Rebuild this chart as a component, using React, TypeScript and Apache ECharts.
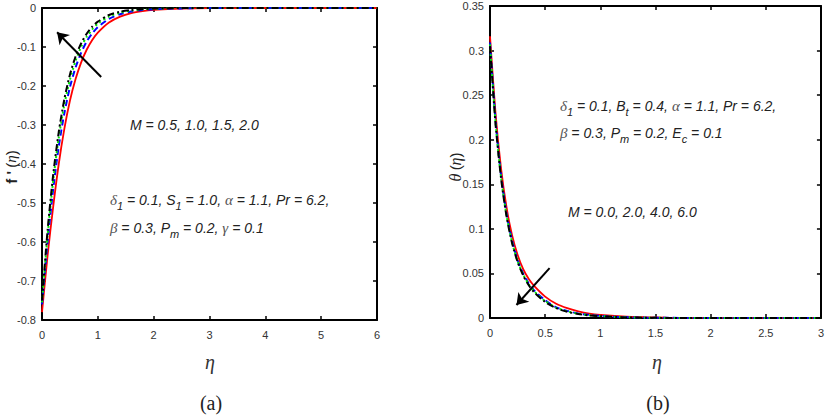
import React, { useEffect, useRef } from 'react';
import * as echarts from 'echarts';

// ---- Panel (a): f'(eta) ----
const etaA = [0, 0.1, 0.2, 0.3, 0.4, 0.5, 0.6, 0.7, 0.8, 0.9, 1.0, 1.2, 1.4, 1.6, 1.8, 2.0, 2.5, 3, 4, 5, 6];
const fRed = [-0.78, -0.635, -0.51, -0.4, -0.31, -0.238, -0.183, -0.14, -0.107, -0.082, -0.063, -0.037, -0.022, -0.013, -0.008, -0.005, -0.0015, -0.0004, 0, 0, 0];
const fBlue = [-0.76, -0.6, -0.465, -0.355, -0.27, -0.203, -0.153, -0.115, -0.086, -0.065, -0.049, -0.028, -0.016, -0.009, -0.005, -0.003, -0.001, 0, 0, 0, 0];
const fGreen = [-0.755, -0.583, -0.443, -0.333, -0.248, -0.184, -0.136, -0.1, -0.074, -0.055, -0.04, -0.022, -0.012, -0.0065, -0.0035, -0.002, 0, 0, 0, 0, 0];
const fBlack = [-0.75, -0.57, -0.428, -0.318, -0.234, -0.171, -0.125, -0.091, -0.066, -0.048, -0.035, -0.018, -0.0095, -0.005, -0.0025, -0.0012, 0, 0, 0, 0, 0];
const arrowA = [[1.06, -0.177], [0.27, -0.062]];

// ---- Panel (b): theta(eta) ----
const etaB = [0, 0.05, 0.1, 0.15, 0.2, 0.25, 0.3, 0.35, 0.4, 0.5, 0.6, 0.7, 0.8, 0.9, 1.0, 1.2, 1.4, 1.6, 2.0, 2.5, 3];
const tRed = [0.316, 0.23, 0.168, 0.124, 0.093, 0.071, 0.055, 0.044, 0.036, 0.024, 0.016, 0.011, 0.0075, 0.005, 0.0035, 0.0018, 0.0009, 0.0004, 0.0001, 0, 0];
const tBlue = [0.309, 0.222, 0.16, 0.117, 0.087, 0.065, 0.05, 0.039, 0.031, 0.02, 0.012, 0.008, 0.005, 0.0035, 0.0024, 0.001, 0.0004, 0.0002, 0, 0, 0];
const tGreen = [0.307, 0.22, 0.158, 0.115, 0.085, 0.064, 0.049, 0.038, 0.03, 0.019, 0.0115, 0.0075, 0.0048, 0.0032, 0.0022, 0.0009, 0.0004, 0.0001, 0, 0, 0];
const tBlack = [0.305, 0.218, 0.157, 0.114, 0.084, 0.063, 0.048, 0.037, 0.029, 0.018, 0.011, 0.007, 0.0045, 0.003, 0.002, 0.0008, 0.0003, 0.0001, 0, 0, 0];
const arrowB = [[0.54, 0.056], [0.24, 0.0146]];

const lineStyles = [
  { color: '#ff0000', width: 1.8, type: 'solid' as any },
  { color: '#0000ff', width: 2, type: [6, 4] as any },
  { color: '#00ee00', width: 2, type: [2, 3] as any },
  { color: '#000000', width: 2, type: [7, 3, 2, 3] as any },
];

const SANS = '"Liberation Sans", Arial, sans-serif';
const SERIF = '"Liberation Serif", "Times New Roman", serif';

function mkX(grid: number, min: number, max: number, interval: number, pos: 'bottom' | 'top') {
  return {
    type: 'value', gridIndex: grid, min, max, interval, position: pos,
    axisLine: { show: true, onZero: false, lineStyle: { color: '#000', width: 2 } },
    axisTick: { show: true, inside: true, length: 4, lineStyle: { color: '#000', width: 1.5 } },
    axisLabel: { show: pos === 'bottom', color: '#333', fontSize: 11, fontFamily: SANS, margin: 9 },
    splitLine: { show: false },
  };
}
function mkY(grid: number, min: number, max: number, interval: number, pos: 'left' | 'right', fmt?: (v: number) => string) {
  return {
    type: 'value', gridIndex: grid, min, max, interval, position: pos,
    axisLine: { show: true, onZero: false, lineStyle: { color: '#000', width: 2 } },
    axisTick: { show: true, inside: true, length: 4, lineStyle: { color: '#000', width: 1.5 } },
    axisLabel: { show: pos === 'left', color: '#333', fontSize: 11, fontFamily: SANS, margin: 6, formatter: fmt },
    splitLine: { show: false },
  };
}

function mkSeries(xs: number[], ys: number[], idx: number, xi: number, yi: number) {
  return {
    type: 'line', xAxisIndex: xi, yAxisIndex: yi,
    data: xs.map((x, i) => [x, ys[i]]),
    showSymbol: false, symbol: 'none', smooth: 0.25,
    lineStyle: lineStyles[idx], z: 3 + idx,
  };
}

function mkArrow(coords: number[][], xi: number, yi: number) {
  return {
    type: 'lines', coordinateSystem: 'cartesian2d', xAxisIndex: xi, yAxisIndex: yi,
    data: [{ coords }], symbol: ['none', 'arrow'], symbolSize: [0, 11],
    lineStyle: { color: '#000', width: 2, opacity: 1, curveness: 0 }, z: 10,
  };
}

const richBase = {
  t: { fontSize: 14, fontFamily: SANS, fontStyle: 'italic', fill: '#222' },
  g: { fontSize: 15, fontFamily: SERIF, fontStyle: 'italic', fill: '#555' },
  s: { fontSize: 11, fontFamily: SANS, fontStyle: 'italic', fill: '#222', padding: [12, 0, 0, 0] },
};

function annot(x: number, y: number, text: string) {
  return {
    type: 'text', x, y, z: 20,
    style: { text, rich: richBase, textVerticalAlign: 'middle', textAlign: 'left' },
  };
}

export default function App() {
  const ref = useRef<HTMLDivElement>(null);
  useEffect(() => {
    if (!ref.current) return;
    const chart = echarts.init(ref.current, undefined, { renderer: 'svg' });
    const fmt2 = (v: number) => String(Math.round(v * 100) / 100);
    const fmt1 = (v: number) => String(Math.round(v * 10) / 10);
    chart.setOption({
      animation: false,
      backgroundColor: '#fff',
      grid: [
        { left: 42, top: 8, width: 335, height: 312 },
        { left: 490, top: 6, width: 334, height: 312 },
      ],
      xAxis: [
        mkX(0, 0, 6, 1, 'bottom'), mkX(0, 0, 6, 1, 'top'),
        mkX(1, 0, 3, 0.5, 'bottom'), mkX(1, 0, 3, 0.5, 'top'),
      ],
      yAxis: [
        mkY(0, -0.8, 0, 0.1, 'left', fmt1), mkY(0, -0.8, 0, 0.1, 'right'),
        mkY(1, 0, 0.35, 0.05, 'left', fmt2), mkY(1, 0, 0.35, 0.05, 'right'),
      ],
      series: [
        mkSeries(etaA, fRed, 0, 0, 0),
        mkSeries(etaA, fBlue, 1, 0, 0),
        mkSeries(etaA, fGreen, 2, 0, 0),
        mkSeries(etaA, fBlack, 3, 0, 0),
        mkArrow(arrowA, 0, 0),
        mkSeries(etaB, tRed, 0, 2, 2),
        mkSeries(etaB, tBlue, 1, 2, 2),
        mkSeries(etaB, tGreen, 2, 2, 2),
        mkSeries(etaB, tBlack, 3, 2, 2),
        mkArrow(arrowB, 2, 2),
      ],
      graphic: [
        annot(130, 125, '{t|M = 0.5, 1.0, 1.5, 2.0}'),
        annot(110, 200, '{g|δ}{s|1}{t| = 0.1, S}{s|1}{t| = 1.0, }{g|α}{t| = 1.1, Pr = 6.2,}'),
        annot(110, 228, '{g|β}{t| = 0.3, P}{s|m}{t| = 0.2, }{g|γ}{t| = 0.1}'),
        annot(560, 106, '{g|δ}{s|1}{t| = 0.1, B}{s|t}{t| = 0.4, }{g|α}{t| = 1.1, Pr = 6.2,}'),
        annot(560, 133, '{g|β}{t| = 0.3, P}{s|m}{t| = 0.2, E}{s|c}{t| = 0.1}'),
        annot(568, 212, '{t|M = 0.0, 2.0, 4.0, 6.0}'),
        {
          type: 'text', x: 11, y: 167, rotation: Math.PI / 2, z: 20,
          style: {
            text: "{b|f '} {p|(}{e|η}{p|)}", textAlign: 'center', textVerticalAlign: 'middle',
            rich: {
              b: { fontSize: 15, fontFamily: SANS, fontWeight: 'bold', fill: '#222' },
              p: { fontSize: 15, fontFamily: SANS, fill: '#222' },
              e: { fontSize: 15, fontFamily: SERIF, fontStyle: 'italic', fill: '#222' },
            },
          },
        },
        {
          type: 'text', x: 455, y: 167, rotation: Math.PI / 2, z: 20,
          style: {
            text: '{e|θ} {p|(}{e|η}{p|)}', textAlign: 'center', textVerticalAlign: 'middle',
            rich: {
              p: { fontSize: 15, fontFamily: SANS, fill: '#222' },
              e: { fontSize: 16, fontFamily: SERIF, fontStyle: 'italic', fill: '#222' },
            },
          },
        },
        { type: 'text', x: 210, y: 362, style: { text: 'η', font: `italic 20px ${SERIF}`, fill: '#333', textAlign: 'center', textVerticalAlign: 'middle' } },
        { type: 'text', x: 657, y: 362, style: { text: 'η', font: `italic 20px ${SERIF}`, fill: '#333', textAlign: 'center', textVerticalAlign: 'middle' } },
        { type: 'text', x: 211, y: 403, style: { text: '(a)', font: `20px ${SERIF}`, fill: '#222', textAlign: 'center', textVerticalAlign: 'middle' } },
        { type: 'text', x: 658, y: 403, style: { text: '(b)', font: `20px ${SERIF}`, fill: '#222', textAlign: 'center', textVerticalAlign: 'middle' } },
      ],
    });
    return () => chart.dispose();
  }, []);
  return <div ref={ref} style={{ position: 'absolute', left: 0, top: 0, width: 827, height: 420 }} />;
}
